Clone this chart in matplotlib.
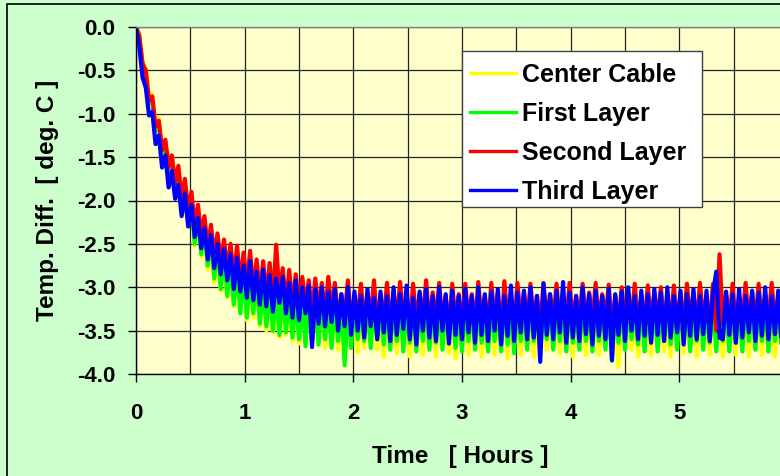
import numpy as np
import matplotlib.pyplot as plt
from matplotlib.patches import Rectangle
from matplotlib.ticker import MultipleLocator

# Sample times in hours (one reading every 0.03 h)
hours = np.linspace(0, 6, 201)

center_cable = [
    0, -0.08, -0.4, -0.48, -0.82, -0.78, -1.12, -1.05, -1.4, -1.3,
    -1.53, -1.5, -1.84, -1.65, -2.05, -1.85, -2.28, -2.0, -2.52, -2.15,
    -2.65, -2.3, -2.8, -2.42, -2.95, -2.5, -3.05, -2.62, -3.12, -2.7,
    -3.22, -2.78, -3.3, -2.82, -3.38, -2.88, -3.35, -2.92, -3.45, -2.98,
    -3.5, -3.02, -3.52, -3.05, -3.58, -3.08, -3.55, -3.1, -3.62, -3.12,
    -3.65, -3.15, -3.52, -3.12, -3.68, -3.18, -3.5, -3.15, -3.7, -3.18,
    -3.58, -3.2, -3.72, -3.18, -3.78, -3.22, -3.55, -3.15, -3.75, -3.2,
    -3.7, -3.22, -3.56, -3.18, -3.72, -3.25, -3.8, -3.2, -3.58, -3.22,
    -3.76, -3.2, -3.55, -3.25, -3.8, -3.2, -3.6, -3.22, -3.78, -3.18,
    -3.58, -3.25, -3.8, -3.2, -3.56, -3.22, -3.76, -3.2, -3.82, -3.25,
    -3.6, -3.2, -3.78, -3.22, -3.55, -3.2, -3.8, -3.25, -3.58, -3.2,
    -3.78, -3.22, -3.56, -3.18, -3.82, -3.22, -3.58, -3.2, -3.78, -3.25,
    -3.55, -3.2, -3.8, -3.22, -3.6, -3.2, -3.72, -3.25, -3.56, -3.18,
    -3.76, -3.22, -3.58, -3.05, -3.8, -3.25, -3.55, -3.2, -3.78, -3.22,
    -3.58, -3.2, -3.78, -3.22, -3.56, -3.18, -3.8, -3.22, -3.92, -3.2,
    -3.6, -3.22, -3.72, -3.2, -3.8, -3.25, -3.56, -3.2, -3.78, -3.18,
    -3.58, -3.22, -3.74, -3.2, -3.8, -3.05, -3.55, -3.22, -3.76, -3.2,
    -3.58, -3.25, -3.8, -3.2, -3.56, -3.22, -3.78, -3.18, -3.6, -3.22,
    -3.8, -3.2, -3.56, -3.25, -3.78, -3.2, -3.58, -3.22, -3.8, -3.2,
    -3.58, -3.22, -3.78, -3.2, -3.55, -3.25, -3.8, -3.2, -3.6, -3.22,
    -3.74,
]

first_layer = [
    0, -0.12, -0.45, -0.55, -0.88, -0.85, -1.2, -1.12, -1.45, -1.35,
    -1.68, -1.52, -1.86, -1.7, -2.05, -1.85, -2.25, -2.0, -2.5, -2.15,
    -2.62, -2.3, -2.75, -2.42, -2.9, -2.5, -3.02, -2.6, -3.1, -2.7,
    -3.2, -2.75, -3.3, -2.8, -3.35, -2.85, -3.3, -2.9, -3.42, -2.95,
    -3.45, -3.0, -3.5, -3.02, -3.55, -3.05, -3.52, -3.08, -3.58, -3.1,
    -3.6, -3.12, -3.68, -3.1, -3.62, -3.15, -3.66, -3.12, -3.6, -3.15,
    -3.7, -3.18, -3.62, -3.15, -3.9, -3.2, -3.7, -3.15, -3.6, -3.18,
    -3.62, -3.2, -3.7, -3.15, -3.6, -3.22, -3.66, -3.18, -3.72, -3.2,
    -3.62, -3.16, -3.74, -3.22, -3.64, -3.18, -3.74, -3.2, -3.62, -3.15,
    -3.72, -3.22, -3.64, -3.18, -3.72, -3.2, -3.6, -3.16, -3.7, -3.22,
    -3.74, -3.18, -3.62, -3.2, -3.72, -3.16, -3.64, -3.22, -3.74, -3.18,
    -3.62, -3.2, -3.74, -3.15, -3.66, -3.2, -3.76, -3.18, -3.62, -3.22,
    -3.72, -3.16, -3.62, -3.2, -3.76, -3.18, -3.6, -3.22, -3.72, -3.15,
    -3.62, -3.2, -3.74, -3.18, -3.64, -3.22, -3.72, -3.16, -3.62, -3.2,
    -3.74, -3.18, -3.62, -3.2, -3.72, -3.15, -3.85, -3.2, -3.64, -3.18,
    -3.72, -3.2, -3.6, -3.22, -3.66, -3.18, -3.74, -3.2, -3.62, -3.16,
    -3.74, -3.2, -3.62, -3.18, -3.66, -3.22, -3.72, -3.2, -3.62, -3.16,
    -3.74, -3.22, -3.62, -3.18, -3.72, -3.2, -3.64, -3.16, -3.74, -3.2,
    -3.62, -3.18, -3.74, -3.22, -3.64, -3.2, -3.74, -3.16, -3.62, -3.2,
    -3.72, -3.22, -3.62, -3.18, -3.74, -3.2, -3.62, -3.15, -3.72, -3.2,
    -3.7,
]

second_layer = [
    0, -0.1, -0.42, -0.5, -0.85, -0.8, -1.15, -1.08, -1.42, -1.3,
    -1.62, -1.48, -1.8, -1.6, -1.98, -1.75, -2.12, -1.9, -2.28, -2.05,
    -2.4, -2.18, -2.55, -2.28, -2.65, -2.38, -2.72, -2.45, -2.8, -2.5,
    -2.9, -2.52, -2.95, -2.6, -3.0, -2.58, -3.05, -2.68, -3.1, -2.7,
    -3.12, -2.72, -3.15, -2.51, -3.1, -2.78, -3.2, -2.8, -3.22, -2.85,
    -3.25, -2.88, -3.2, -2.92, -3.3, -2.9, -3.28, -2.95, -3.35, -2.88,
    -3.3, -2.95, -3.38, -3.08, -3.32, -2.92, -3.4, -3.1, -3.35, -2.96,
    -3.42, -3.06, -3.36, -2.92, -3.45, -3.1, -3.38, -2.95, -3.44, -3.05,
    -3.4, -2.94, -3.35, -3.1, -3.46, -2.96, -3.4, -3.08, -3.36, -2.92,
    -3.44, -3.06, -3.38, -2.95, -3.42, -3.1, -3.5, -2.96, -3.4, -3.08,
    -3.45, -2.96, -3.38, -3.08, -3.44, -2.94, -3.4, -3.1, -3.46, -2.95,
    -3.38, -3.08, -3.55, -2.93, -3.4, -3.1, -3.45, -2.95, -3.38, -3.06,
    -3.44, -2.96, -3.4, -3.1, -3.48, -2.95, -3.42, -3.08, -3.38, -2.96,
    -3.45, -3.08, -3.4, -2.95, -3.44, -3.1, -3.36, -2.96, -3.46, -3.06,
    -3.4, -2.95, -3.45, -3.08, -3.38, -2.97, -3.5, -3.1, -3.42, -3.0,
    -3.44, -3.08, -3.38, -2.96, -3.46, -3.1, -3.4, -2.98, -3.44, -3.06,
    -3.38, -3.0, -3.45, -3.1, -3.4, -2.98, -3.5, -3.08, -3.42, -2.96,
    -3.4, -3.06, -3.46, -2.95, -3.38, -3.1, -3.44, -2.96, -3.5, -2.62,
    -3.42, -3.08, -3.4, -2.96, -3.45, -3.1, -3.38, -2.95, -3.44, -3.06,
    -3.4, -2.96, -3.46, -3.08, -3.38, -2.95, -3.42, -3.1, -3.45, -2.97,
    -3.42,
]

third_layer = [
    0, -0.22, -0.58, -0.7, -1.02, -0.98, -1.35, -1.25, -1.62, -1.48,
    -1.85, -1.66, -1.98, -1.82, -2.18, -1.92, -2.3, -2.05, -2.42, -2.2,
    -2.55, -2.32, -2.68, -2.4, -2.78, -2.5, -2.85, -2.56, -2.92, -2.62,
    -3.02, -2.66, -3.05, -2.75, -3.12, -2.7, -3.15, -2.82, -3.2, -2.8,
    -3.22, -2.86, -3.28, -2.9, -3.18, -2.88, -3.3, -2.95, -3.35, -2.92,
    -3.38, -3.0, -3.3, -2.98, -3.69, -3.02, -3.42, -3.0, -3.45, -3.05,
    -3.4, -3.02, -3.5, -3.08, -3.45, -3.0, -3.55, -3.05, -3.5, -3.1,
    -3.58, -3.02, -3.45, -3.12, -3.6, -3.05, -3.52, -3.1, -3.62, -3.0,
    -3.55, -3.08, -3.48, -2.98, -3.6, -3.12, -3.66, -3.05, -3.5, -3.02,
    -3.58, -3.1, -3.62, -3.0, -3.5, -3.08, -3.65, -3.04, -3.55, -3.1,
    -3.6, -3.02, -3.52, -3.1, -3.64, -3.0, -3.55, -3.08, -3.62, -3.05,
    -3.5, -3.02, -3.66, -3.1, -3.56, -2.98, -3.62, -3.06, -3.52, -3.04,
    -3.6, -3.0, -3.58, -3.1, -3.86, -2.96, -3.55, -3.08, -3.6, -3.04,
    -3.52, -2.94, -3.64, -3.06, -3.58, -3.1, -3.62, -3.0, -3.54, -3.08,
    -3.66, -3.04, -3.56, -3.1, -3.6, -3.02, -3.84, -3.08, -3.55, -3.05,
    -3.62, -3.0, -3.5, -3.1, -3.6, -3.04, -3.56, -3.08, -3.64, -3.02,
    -3.55, -3.06, -3.62, -3.0, -3.58, -3.1, -3.52, -3.04, -3.66, -3.08,
    -3.56, -3.02, -3.6, -3.1, -3.54, -3.04, -3.62, -3.06, -2.82, -3.58,
    -3.6, -3.05, -3.55, -3.08, -3.64, -3.02, -3.58, -3.1, -3.52, -3.04,
    -3.62, -3.06, -3.56, -3.0, -3.6, -3.1, -3.54, -3.04, -3.65, -3.08,
    -3.5,
]

series_names = ["Center Cable", "First Layer", "Second Layer", "Third Layer"]
series_colors = ["#FFFF00", "#00FF00", "#FF0000", "#0000FF"]

plt.rcParams['font.family'] = ['Liberation Sans', 'DejaVu Sans']
plt.rcParams['font.weight'] = 'bold'

fig = plt.figure(figsize=(7.8, 4.76), dpi=100, facecolor="#CCFFCC")
ax = fig.add_axes([136 / 780, 102 / 476, 652 / 780, 347 / 476])
ax.set_facecolor("#FFFFCC")

for vals, name, col in zip([center_cable, first_layer, second_layer, third_layer],
                           series_names, series_colors):
    ax.plot(hours, vals, color=col, lw=3.0, label=name)

ax.set_xlim(0, 6)
ax.set_ylim(-4, 0)
ax.xaxis.set_major_locator(MultipleLocator(1))
ax.xaxis.set_minor_locator(MultipleLocator(0.5))
ax.yaxis.set_major_locator(MultipleLocator(0.5))
ax.yaxis.set_major_formatter(plt.FuncFormatter(lambda v, p: f"{v:.1f}"))
ax.grid(True, which="both", color="#222222", lw=0.9)
ax.tick_params(which="major", direction="out", length=6, width=1, labelsize=16, color="black")
ax.tick_params(axis="x", which="major", pad=15)
ax.tick_params(axis="y", which="major", pad=9)
ax.tick_params(which="minor", length=0)
for lbl in ax.get_xticklabels() + ax.get_yticklabels():
    lbl.set_fontweight("bold")
for s in ax.spines.values():
    s.set_color("black")
    s.set_linewidth(1)
ax.spines["top"].set_color("#808080")

fig.text(460 / 780, 1 - 457 / 476, "Time   [ Hours ]", ha="center", va="center",
         fontsize=17.5, fontweight="bold")
fig.text(48 / 780, 1 - 200 / 476, "Temp. Diff.  [ deg. C ]", ha="center", va="center",
         rotation=90, fontsize=17.5, fontweight="bold")

# legend frame drawn separately so the box matches the original proportions
ax.add_patch(Rectangle((462 / 780, 1 - 207 / 476), 240 / 780, 156 / 476,
                       transform=fig.transFigure, facecolor="white",
                       edgecolor="#404040", lw=1.0, zorder=4, clip_on=False))
leg = ax.legend(loc="upper left", bbox_to_anchor=(470 / 780, 1 - 63 / 476),
                bbox_transform=fig.transFigure, fontsize=18, frameon=False,
                handlelength=1.85, handletextpad=0.25, labelspacing=0.6,
                borderpad=0, borderaxespad=0)
leg.set_zorder(6)
for ln in leg.get_lines():
    ln.set_linewidth(2.4)
for t in leg.get_texts():
    t.set_fontweight("bold")

# outer chart border (cut off on the right and bottom)
fig.patches.append(Rectangle((7 / 780, -0.1), 1.2, 1.1 - 4 / 476,
                             transform=fig.transFigure, fill=False,
                             edgecolor="black", lw=1.2, clip_on=False))

fig.savefig("out.png", dpi=100, facecolor=fig.get_facecolor())
